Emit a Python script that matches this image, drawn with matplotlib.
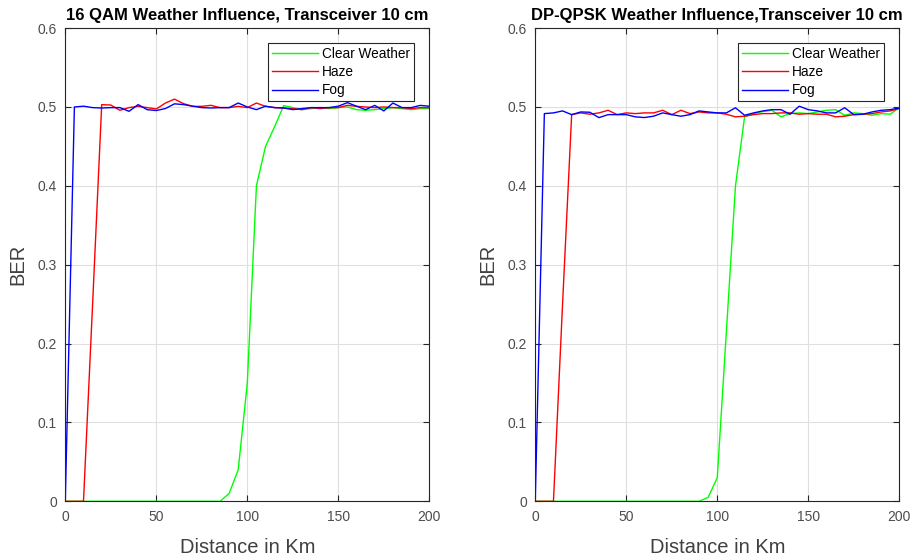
import matplotlib
matplotlib.use("Agg")
import matplotlib.pyplot as plt
from matplotlib.ticker import FuncFormatter

plt.rcParams['font.family'] = ['Liberation Sans', 'DejaVu Sans']

# distance samples, km
distance = list(range(0, 205, 5))

# 16 QAM
qam_clear = [0, 0, 0, 0, 0, 0, 0, 0, 0, 0, 0, 0, 0, 0, 0, 0, 0, 0, 0.01,
             0.04, 0.15, 0.40, 0.45, 0.475, 0.5017, 0.4992, 0.4966, 0.4979,
             0.4992, 0.4979, 0.4992, 0.5, 0.4966, 0.4958, 0.4966, 0.4979,
             0.4992, 0.4979, 0.4966, 0.4979, 0.4979]
qam_haze = [0, 0, 0, 0.25, 0.5029, 0.5025, 0.4958, 0.4992, 0.5008, 0.4992,
            0.4975, 0.505, 0.51, 0.5042, 0.5008, 0.5008, 0.5021, 0.4992,
            0.4992, 0.5008, 0.4992, 0.505, 0.5008, 0.4992, 0.4987, 0.4979,
            0.4966, 0.4992, 0.4979, 0.4992, 0.4992, 0.5021, 0.5008, 0.5,
            0.4992, 0.5, 0.4992, 0.4992, 0.4979, 0.4992, 0.4992]
qam_fog = [0, 0.5, 0.501, 0.4992, 0.4987, 0.4992, 0.4992, 0.4945, 0.503,
           0.4966, 0.4955, 0.498, 0.504, 0.503, 0.501, 0.4992, 0.4987, 0.4992,
           0.4992, 0.505, 0.5, 0.4966, 0.501, 0.4992, 0.4987, 0.4966, 0.498,
           0.4992, 0.4992, 0.4992, 0.501, 0.5055, 0.501, 0.4966, 0.502, 0.495,
           0.505, 0.4992, 0.4992, 0.502, 0.501]

# DP-QPSK
qpsk_clear = [0, 0, 0, 0, 0, 0, 0, 0, 0, 0, 0, 0, 0, 0, 0, 0, 0, 0, 0, 0.005,
              0.03, 0.215, 0.40, 0.4875, 0.4916, 0.4942, 0.4958, 0.4875,
              0.4916, 0.4925, 0.4916, 0.4937, 0.4958, 0.4966, 0.4895, 0.4925,
              0.4916, 0.4895, 0.4916, 0.4908, 0.4992]
qpsk_haze = [0, 0, 0, 0.25, 0.4903, 0.4925, 0.4908, 0.4925, 0.4958, 0.4903,
             0.4925, 0.4916, 0.4925, 0.4925, 0.4958, 0.4903, 0.4958, 0.4916,
             0.4937, 0.4925, 0.4925, 0.4908, 0.4875, 0.4883, 0.4903, 0.4916,
             0.4916, 0.4925, 0.4925, 0.4908, 0.4916, 0.4908, 0.4908, 0.4875,
             0.4883, 0.4903, 0.4908, 0.4916, 0.4937, 0.495, 0.4979]
qpsk_fog = [0, 0.4916, 0.4925, 0.495, 0.4903, 0.4937, 0.4933, 0.4865, 0.4903,
            0.4903, 0.4903, 0.4875, 0.4866, 0.4883, 0.4925, 0.4903, 0.4883,
            0.4903, 0.495, 0.4937, 0.4925, 0.4925, 0.499, 0.4895, 0.4925,
            0.495, 0.4966, 0.4966, 0.4908, 0.501, 0.4966, 0.495, 0.4925,
            0.4925, 0.499, 0.4903, 0.4908, 0.4937, 0.4958, 0.4966, 0.4987]

legend_labels = ["Clear Weather", "Haze", "Fog"]
titles = ["16 QAM Weather Influence, Transceiver 10 cm",
          "DP-QPSK Weather Influence,Transceiver 10 cm"]
panels = [(qam_clear, qam_haze, qam_fog), (qpsk_clear, qpsk_haze, qpsk_fog)]
colors = ["#00ff00", "#ff0000", "#0000ff"]

text_gray = "#404040"
tick_gray = "#4d4d4d"

fig = plt.figure(figsize=(9.17, 5.6), dpi=100)
positions = [[0.0712, 0.1048, 0.397, 0.845], [0.5837, 0.1048, 0.397, 0.845]]

for pos, title, series in zip(positions, titles, panels):
    ax = fig.add_axes(pos)
    for values, color, label in zip(series, colors, legend_labels):
        ax.plot(distance, values, color=color, linewidth=1.0, label=label)
    ax.set_xlim(0, 200)
    ax.set_ylim(0, 0.6)
    ax.set_xticks([0, 50, 100, 150, 200])
    ax.set_yticks([0, 0.1, 0.2, 0.3, 0.4, 0.5, 0.6])
    ax.yaxis.set_major_formatter(FuncFormatter(lambda v, p: "0" if v == 0 else "%g" % round(v, 1)))
    ax.grid(True, color="#dfdfdf", linewidth=0.8)
    ax.set_axisbelow(True)
    ax.tick_params(direction="in", top=True, right=True, length=4, width=0.8,
                   labelsize=10, colors="#262626", labelcolor=tick_gray, pad=6)
    for sp in ax.spines.values():
        sp.set_color("#262626")
        sp.set_linewidth(0.8)
    ax.set_title(title, fontsize=12, fontweight="bold", color="black", pad=6)
    ax.set_xlabel("Distance in Km", fontsize=14.5, color=text_gray, labelpad=10)
    ax.set_ylabel("BER", fontsize=14.5, color=text_gray, labelpad=7)
    leg = ax.legend(loc="upper right", fontsize=9.8, handlelength=3.4,
                    borderaxespad=1.1, fancybox=False, framealpha=1,
                    edgecolor="#262626", labelspacing=0.3, borderpad=0.3,
                    handletextpad=0.3)
    leg.get_frame().set_linewidth(0.8)

fig.savefig("out.png", dpi=100)
